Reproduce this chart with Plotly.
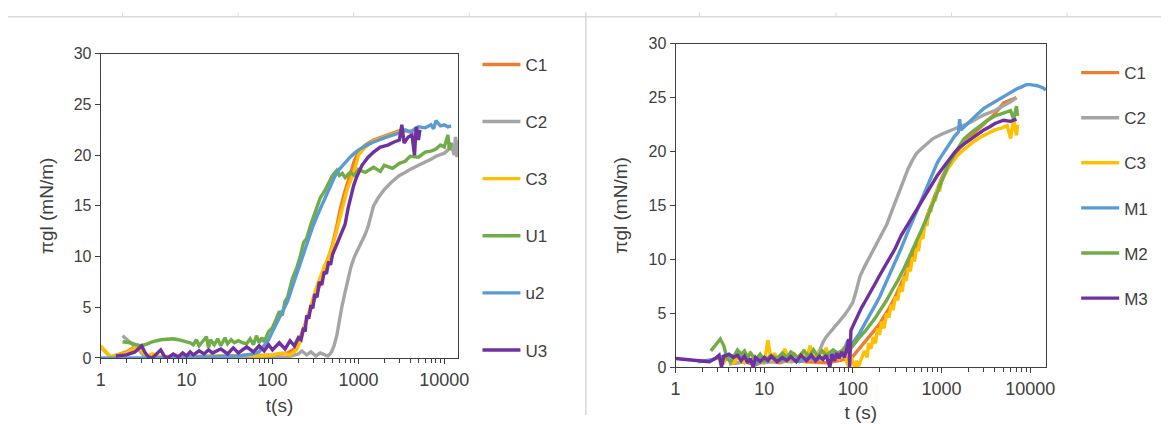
import plotly.graph_objects as go

# ---------------- data ----------------
# Left chart: series C1, C2, C3, U1, u2, U3  (t in s, y = pi_gl in mN/m)
L_C1 = [(1, 1.1), (1.3, 0.1), (2, 0.6), (2.6, 1.2), (3.2, 0.2), (5, 0.1), (10, 0.1), (20, 0.2),
        (50, 0.2), (100, 0.3), (150, 0.5), (190, 1.0), (220, 2.5), (260, 4.0), (300, 5.5),
        (350, 7.0), (400, 8.6), (450, 9.8), (500, 11.2), (560, 13.0), (620, 14.8), (700, 16.5),
        (800, 18.2), (900, 19.5), (1000, 20.3), (1200, 21.0), (1500, 21.5), (2000, 21.9),
        (2500, 22.2), (3000, 22.4), (4000, 22.3), (5000, 22.6)]
L_C2 = [(1.8, 2.2), (2.2, 1.6), (2.6, 1.0), (3.0, 0.5), (3.3, 0.1), (4, 0), (10, 0), (50, 0),
        (100, 0), (150, 0.1), (200, 0.4), (220, 0.7), (250, 0.3), (280, 0.6), (320, 0.2),
        (360, 0.5), (400, 0.3), (440, 0.2), (480, 0.5), (520, 1.2), (560, 2.2), (600, 3.8),
        (640, 5.0), (700, 6.5), (760, 7.8), (820, 9.0), (900, 10.0), (1000, 10.8), (1100, 11.5),
        (1200, 12.2), (1300, 13.0), (1400, 14.2), (1500, 15.0), (1700, 15.8), (2000, 16.6),
        (2400, 17.3), (3000, 18.0), (3500, 18.3), (4000, 18.6), (5000, 19.0), (6000, 19.3),
        (7000, 19.6), (8000, 19.9), (10000, 20.2), (11000, 20.5), (12000, 21.2), (13000, 20.0),
        (13500, 21.8), (14000, 19.8), (14500, 21.5)]
L_C3 = [(1, 1.2), (1.15, 0.6), (1.3, 0.1), (1.6, 0.3), (2, 0.5), (2.4, 0.9), (2.7, 1.3), (3.0, 0.7),
        (3.5, 0.2), (4, 0.4), (5, 0.1), (7, 0.2), (10, 0.1), (15, 0.0), (20, 0.2), (30, 0.1),
        (50, 0.3), (70, 0.2), (100, 0.3), (130, 0.5), (160, 0.3), (190, 0.8), (210, 1.6),
        (230, 2.8), (260, 4.2), (290, 5.6), (320, 6.8), (360, 8.0), (400, 9.0), (450, 10.0),
        (500, 11.0), (560, 12.6), (620, 14.0), (680, 15.2), (750, 16.8), (820, 17.6), (900, 18.5),
        (1000, 20.0), (1200, 20.8), (1500, 21.4), (2000, 21.8), (3000, 22.3), (4000, 22.4),
        (5000, 22.5)]
L_U1 = [(1.8, 1.6), (2.2, 1.5), (2.6, 1.3), (3, 1.2), (3.5, 1.4), (4, 1.6), (5, 1.8), (6, 1.9),
        (7, 1.9), (8, 1.8), (9, 1.7), (10, 1.6), (11, 1.5), (12, 1.3), (13, 1.8), (14, 1.2),
        (15, 1.5), (17, 2.1), (18, 1.0), (19, 1.8), (21, 1.3), (23, 1.9), (25, 1.2), (28, 2.0),
        (30, 1.4), (33, 1.8), (36, 1.5), (40, 1.7), (45, 1.5), (50, 1.4), (55, 1.9), (60, 1.3),
        (65, 2.2), (70, 1.5), (75, 2.0), (80, 1.6), (90, 2.6), (100, 3.0), (110, 3.8), (120, 4.6),
        (130, 4.2), (140, 5.6), (150, 6.0), (170, 7.8), (190, 8.8), (210, 10.0), (230, 11.4),
        (250, 11.8), (280, 13.2), (320, 14.6), (360, 15.8), (400, 16.4), (450, 17.2), (500, 18.0),
        (560, 18.5), (600, 18.0), (650, 18.2), (700, 17.8), (800, 18.3), (900, 18.0), (1000, 18.6),
        (1200, 18.3), (1500, 18.8), (1800, 18.4), (2000, 19.0), (2500, 18.7), (3000, 19.2),
        (3500, 19.4), (4000, 19.9), (5000, 19.8), (6000, 20.3), (7000, 20.4), (8000, 20.6),
        (9000, 21.0), (10000, 20.8), (11000, 22.0), (11500, 20.5), (12000, 21.2)]
L_u2 = [(1, 0), (2, 0), (4, 0), (10, 0.1), (20, 0.1), (40, 0.2), (60, 0.4), (70, 0.6), (80, 1.2),
        (90, 1.8), (100, 2.6), (115, 3.6), (130, 4.6), (150, 5.6), (170, 7.0), (190, 8.2),
        (210, 9.2), (230, 10.4), (260, 11.6), (290, 12.8), (330, 14.0), (380, 15.2), (430, 16.3),
        (480, 17.2), (530, 17.9), (600, 18.6), (700, 19.3), (800, 19.8), (900, 20.2), (1000, 20.5),
        (1200, 20.9), (1500, 21.3), (2000, 21.7), (2500, 22.0), (3000, 22.2), (3500, 22.5),
        (4000, 22.3), (5000, 22.8), (6000, 22.7), (7000, 23.0), (7500, 22.6), (8000, 23.4),
        (9000, 22.9), (10000, 23.0), (11000, 22.8), (12000, 22.9)]
L_U3 = [(1.5, 0.2), (2, 0.3), (2.5, 0.6), (2.8, 1.0), (3.0, 1.2), (3.3, 0.5), (3.6, 0.1), (4, 0.0),
        (4.5, 0.4), (5, 0.8), (5.5, 0.2), (6, 0.0), (7, 0.4), (8, 0.1), (9, 0.5), (10, 0.2),
        (11, 0.6), (12, 0.3), (14, 0.7), (16, 0.4), (18, 0.8), (20, 0.5), (25, 0.9), (30, 0.4),
        (35, 1.0), (40, 0.5), (50, 1.1), (60, 0.6), (70, 1.2), (80, 0.7), (90, 1.3), (100, 0.8),
        (120, 1.5), (140, 0.9), (160, 1.7), (180, 1.2), (200, 2.0), (215, 1.8), (230, 3.0),
        (240, 2.6), (250, 4.2), (265, 3.9), (280, 5.2), (295, 4.9), (310, 6.3), (330, 6.0),
        (350, 7.5), (375, 7.2), (400, 8.5), (425, 8.3), (450, 9.5), (475, 9.2), (500, 10.2),
        (550, 11.0), (600, 11.7), (650, 12.5), (700, 13.2), (760, 14.8), (820, 16.0), (880, 17.0),
        (950, 17.8), (1000, 18.2), (1100, 19.0), (1300, 19.8), (1500, 20.3), (1800, 20.8),
        (2200, 21.0), (2600, 21.3), (3000, 21.5), (3200, 23.0), (3400, 21.2), (3800, 21.8),
        (4200, 22.0), (4500, 20.0), (4700, 22.8), (5000, 21.5), (5200, 22.5)]

# Right chart: series C1, C2, C3, M1, M2, M3
R_C1 = [(4, 0.3), (6, 0.5), (8, 0.2), (10, 0.6), (15, 0.4), (20, 0.7), (30, 0.5), (50, 0.4),
        (70, 0.6), (90, 0.8), (100, 1.0), (120, 1.8), (150, 2.8), (200, 4.0), (250, 5.3),
        (300, 6.5), (400, 8.8), (500, 10.8), (600, 12.6), (700, 14.2), (800, 15.5), (1000, 17.5),
        (1200, 18.8), (1500, 20.0), (2000, 21.2), (3000, 22.5), (4000, 23.5), (5000, 24.5),
        (6000, 24.8), (7000, 25.0)]
R_C2 = [(4, 0.3), (6, 0.5), (10, 0.4), (15, 0.6), (20, 0.5), (30, 0.7), (38, 0.8), (42, 1.5),
        (46, 2.3), (50, 2.8), (55, 3.2), (60, 3.6), (70, 4.2), (80, 4.8), (90, 5.4), (100, 6.0),
        (110, 7.2), (120, 8.4), (135, 9.3), (150, 10.0), (170, 10.8), (190, 11.5), (210, 12.3),
        (240, 13.2), (270, 14.3), (300, 15.3), (340, 16.3), (380, 17.5), (420, 18.4), (470, 19.2),
        (520, 19.8), (600, 20.3), (700, 20.8), (800, 21.2), (1000, 21.6), (1200, 21.9),
        (1500, 22.2), (2000, 22.6), (2500, 23.0), (3000, 23.4), (4000, 23.8), (5000, 24.2),
        (6000, 24.6), (7000, 25.0)]
R_C3 = [(3, 0.8), (3.5, 0.4), (4, 1.2), (4.5, 0.3), (5, 0.9), (6, 0.4), (7, 1.4), (8, 0.5),
        (9, 1.0), (10, 0.3), (11, 2.5), (12, 0.6), (13, 1.3), (15, 0.5), (17, 1.7), (19, 0.6),
        (22, 1.2), (25, 0.5), (28, 1.6), (30, 0.8), (33, 2.0), (36, 0.7), (40, 1.3), (45, 0.6),
        (50, 1.8), (55, 0.5), (60, 1.4), (70, 0.8), (80, 1.9), (85, 0.5), (90, 0.0), (95, 1.0),
        (100, 0.4), (105, 0.0), (110, 0.6), (115, 0.0), (125, 0.8), (135, 1.5), (145, 0.9),
        (150, 2.2), (160, 1.7), (170, 2.8), (180, 2.2), (190, 3.6), (200, 3.0), (210, 4.2),
        (225, 3.6), (240, 5.0), (255, 4.6), (270, 5.8), (285, 5.3), (300, 6.5), (320, 6.2),
        (340, 7.5), (360, 7.0), (380, 8.4), (400, 8.0), (420, 9.2), (445, 8.9), (470, 10.2),
        (495, 9.8), (520, 11.0), (550, 10.8), (580, 12.2), (615, 11.9), (650, 13.4), (685, 13.1),
        (720, 14.6), (760, 14.4), (800, 15.6), (850, 15.4), (900, 16.6), (950, 16.3),
        (1000, 17.3), (1200, 18.5), (1500, 19.6), (1800, 20.2), (2200, 20.8), (2700, 21.3),
        (3300, 21.7), (4000, 22.0), (4800, 22.2), (5500, 22.4), (6000, 21.2), (6500, 23.0),
        (7000, 21.5), (7200, 22.5)]
R_M1 = [(1.8, 0.5), (2.2, 0.6), (2.6, 0.7), (3, 0.9), (3.5, 1.0), (4, 1.0), (5, 1.1), (6, 1.0),
        (7, 0.6), (8, 0.3), (9, 0.8), (10, 0.5), (12, 0.9), (15, 0.6), (20, 0.8), (25, 0.5),
        (30, 0.9), (40, 0.7), (50, 1.0), (60, 1.2), (70, 1.4), (80, 1.6), (88, 2.5), (92, 1.8),
        (100, 2.2), (120, 3.2), (140, 4.2), (160, 5.0), (180, 5.8), (200, 6.5), (230, 7.6),
        (260, 8.6), (300, 9.6), (350, 11.0), (400, 12.2), (450, 13.2), (500, 14.2), (600, 15.6),
        (700, 17.0), (800, 18.2), (900, 19.0), (1000, 19.6), (1200, 20.6), (1400, 21.4),
        (1550, 21.8), (1600, 23.0), (1650, 22.0), (2000, 22.6), (2500, 23.4), (3000, 24.0),
        (4000, 24.6), (5000, 25.1), (6000, 25.5), (7000, 25.8), (8000, 26.0), (9000, 26.2),
        (10000, 26.2), (12000, 26.1), (14000, 25.9), (15000, 25.7)]
R_M2 = [(2.5, 1.5), (2.8, 2.0), (3.2, 2.6), (3.5, 2.0), (3.8, 0.8), (4.2, 0.5), (4.6, 1.0),
        (5.0, 1.6), (5.5, 1.2), (6, 1.5), (6.5, 0.9), (7, 1.3), (8, 0.7), (9, 1.2), (10, 0.6),
        (12, 1.1), (14, 0.8), (16, 1.3), (18, 0.9), (20, 1.4), (24, 0.9), (28, 1.5), (32, 1.0),
        (36, 1.6), (40, 1.0), (45, 1.5), (50, 1.1), (60, 1.6), (70, 1.2), (80, 1.7), (90, 1.5),
        (100, 2.0), (120, 2.8), (140, 3.4), (160, 4.0), (180, 4.6), (200, 5.2), (240, 6.2),
        (280, 7.2), (320, 8.0), (380, 9.2), (440, 10.4), (500, 11.4), (600, 12.8), (700, 14.0),
        (800, 15.2), (1000, 17.2), (1200, 18.8), (1500, 20.2), (1800, 21.2), (2200, 21.8),
        (2700, 22.4), (3300, 22.9), (4000, 23.3), (5000, 23.6), (6000, 23.8), (6500, 23.0),
        (7000, 24.2), (7200, 23.3)]
R_M3 = [(1, 0.8), (1.3, 0.7), (1.6, 0.6), (2, 0.5), (2.4, 0.5), (2.8, 0.8), (3.1, 1.1), (3.3, 0.0),
        (3.5, 1.0), (4, 1.2), (4.5, 0.9), (5, 1.1), (5.5, 0.6), (6, 1.0), (6.5, 0.4), (7, 0.8),
        (7.5, 0.0), (8, 0.9), (9, 0.5), (10, 0.9), (11, 0.6), (12, 1.0), (14, 0.5), (16, 0.9),
        (18, 0.6), (20, 1.0), (23, 0.5), (26, 1.1), (30, 0.6), (34, 1.1), (38, 0.6), (42, 1.0),
        (46, 0.7), (50, 1.1), (55, 0.0), (58, 1.2), (62, 0.6), (66, 1.3), (70, 0.8), (75, 1.4),
        (80, 0.9), (85, 1.6), (90, 2.6), (92, 0.0), (95, 3.4), (100, 3.8), (110, 4.6), (125, 5.5),
        (140, 6.2), (160, 7.0), (180, 7.8), (200, 8.5), (230, 9.4), (260, 10.2), (300, 11.0),
        (350, 12.2), (400, 13.0), (460, 13.8), (520, 14.6), (600, 15.5), (700, 16.4), (800, 17.2),
        (900, 17.8), (1000, 18.3), (1200, 19.2), (1400, 19.9), (1600, 20.4), (2000, 21.0),
        (2500, 21.6), (3000, 22.0), (3500, 22.3), (4000, 22.6), (5000, 22.9), (6000, 22.8),
        (7000, 23.0)]

LEFT_NAMES = ["C1", "C2", "C3", "U1", "u2", "U3"]
RIGHT_NAMES = ["C1", "C2", "C3", "M1", "M2", "M3"]
LEFT_SERIES = [L_C1, L_C2, L_C3, L_U1, L_u2, L_U3]
RIGHT_SERIES = [R_C1, R_C2, R_C3, R_M1, R_M2, R_M3]
COLORS = ["#ED7D31", "#A5A5A5", "#FFC000", "#70AD47", "#5B9BD5", "#7030A0"]
COLORS_R = ["#ED7D31", "#A5A5A5", "#FFC000", "#5B9BD5", "#70AD47", "#7030A0"]

Y_TICKS = [0, 5, 10, 15, 20, 25, 30]
X_TICKS = [1, 10, 100, 1000, 10000]
X_TICKTEXT = ["1", "10", "100", "1000", "10000"]
MINOR = [m * 10 ** d for d in range(0, 5) for m in range(2, 10)]

# ---------------- figure ----------------
W, H = 1172, 424
fig = go.Figure()

for name, pts, col in zip(LEFT_NAMES, LEFT_SERIES, COLORS):
    fig.add_trace(go.Scatter(
        x=[p[0] for p in pts], y=[p[1] for p in pts], mode="lines", name=name,
        line=dict(color=col, width=3.4), xaxis="x", yaxis="y",
        legend="legend", legendgroup="L" + name))

for name, pts, col in zip(RIGHT_NAMES, RIGHT_SERIES, COLORS_R):
    fig.add_trace(go.Scatter(
        x=[p[0] for p in pts], y=[p[1] for p in pts], mode="lines", name=name,
        line=dict(color=col, width=3.4), xaxis="x2", yaxis="y2",
        legend="legend2", legendgroup="R" + name))

FAM = "Liberation Sans, Arial, sans-serif"
YFONT = dict(family=FAM, size=16, color="#404040")
XFONT = dict(family=FAM, size=18, color="#404040")
LFONT = dict(family=FAM, size=17, color="#404040")
TFONT = dict(family=FAM, size=19, color="#404040")
AX = "#404040"


def px(v):
    return v / W


def py(v):
    return 1 - v / H


xcommon = dict(type="log", showline=True, linecolor=AX, linewidth=1, mirror=True,
               ticks="outside", ticklen=5, tickcolor=AX, tickvals=X_TICKS, ticktext=X_TICKTEXT,
               showgrid=False, zeroline=False, tickfont=XFONT,
               minor=dict(tickvals=MINOR, ticks="outside", ticklen=4, tickcolor=AX, showgrid=False))
ycommon = dict(range=[0, 30], tickvals=Y_TICKS, showline=True, linecolor=AX, linewidth=1,
               mirror=True, ticks="outside", ticklen=5, tickcolor=AX, showgrid=False,
               zeroline=False, tickfont=YFONT)

fig.update_layout(
    width=W, height=H, margin=dict(l=0, r=0, t=0, b=0),
    paper_bgcolor="white", plot_bgcolor="white", font=LFONT, showlegend=True,
    xaxis=dict(xcommon, domain=[px(97), px(459.6)], range=[0, 4.163], anchor="y",
               title=dict(text="t(s)", font=TFONT, standoff=10)),
    yaxis=dict(ycommon, domain=[py(364.6), py(47.7)], anchor="x",
               title=dict(text="πgl (mN/m)", font=TFONT, standoff=15)),
    xaxis2=dict(xcommon, domain=[px(679.8), px(1055.6)], range=[0, 4.18], anchor="y2",
                title=dict(text="t (s)", font=TFONT, standoff=7)),
    yaxis2=dict(ycommon, domain=[py(374.1), py(37.2)], anchor="x2",
                title=dict(text="πgl (mN/m)", font=TFONT, standoff=15)),
    legend=dict(x=px(479), y=py(40.5), xanchor="left", yanchor="top", font=LFONT,
                tracegroupgap=32, bgcolor="rgba(0,0,0,0)", itemwidth=38),
    legend2=dict(x=px(1086), y=py(49), xanchor="left", yanchor="top", font=LFONT,
                 tracegroupgap=20, bgcolor="rgba(0,0,0,0)", itemwidth=38),
)

# spreadsheet-like frame lines around the charts
GRID = "#d9d9d9"
shapes = [
    dict(type="line", xref="paper", yref="paper", x0=px(3), x1=1, y0=py(9), y1=py(9),
         line=dict(color=GRID, width=1.5)),
    dict(type="line", xref="paper", yref="paper", x0=px(588.9), x1=px(588.9), y0=py(4.8),
         y1=0, line=dict(color=GRID, width=1.5)),
]
for xt in [119.2, 236.4, 353.5, 470.7, 704.0, 842.4, 959.6, 1076.8]:
    shapes.append(dict(type="line", xref="paper", yref="paper", x0=px(xt), x1=px(xt),
                       y0=py(4.8), y1=py(9), line=dict(color=GRID, width=1)))
fig.update_layout(shapes=shapes)

fig.write_html("out.html", config={"displayModeBar": False},
               post_script="document.body.style.margin='0';document.body.style.overflow='hidden';")
